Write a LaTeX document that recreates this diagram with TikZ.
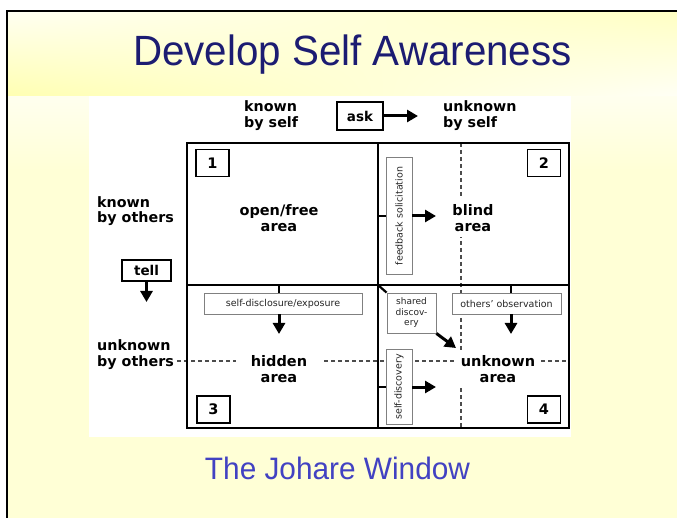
\documentclass[tikz,border=0pt]{standalone}
\usepackage{fontspec}
\setmainfont{DejaVu Sans}
\newfontfamily\slidefont{Liberation Sans}
\usetikzlibrary{arrows.meta,positioning,shadings}

\definecolor{titleblue}{HTML}{1C1C72}
\definecolor{captionblue}{HTML}{4242C2}
\definecolor{paleyellow}{HTML}{FFFFD6}
\definecolor{bandUL}{HTML}{FFFFF2}
\definecolor{bandUR}{HTML}{FFFFC3}
\definecolor{bandLL}{HTML}{FFFFB2}
\definecolor{bandLR}{HTML}{FFFFF5}

\begin{document}
\begin{tikzpicture}[x=1pt,y=-1pt,
  gridline/.style={line width=2.3pt},
  sidelabel/.style={font=\fontsize{14.3}{15.5}\selectfont\bfseries, align=left, inner sep=0pt, anchor=west},
  arealabel/.style={font=\fontsize{14.5}{16}\selectfont\bfseries, align=center, fill=white, inner sep=2pt},
  numbox/.style={draw, line width=1.5pt, fill=white, minimum width=33pt, minimum height=27pt,
    font=\fontsize{14.5}{16}\selectfont\bfseries, inner sep=0pt},
  cuebox/.style={draw, line width=1.2pt, fill=white, font=\fontsize{13.5}{15}\selectfont\bfseries, inner sep=0pt},
  notebox/.style={draw=black!50, line width=0.9pt, fill=white, text=black!85,
    font=\fontsize{9.5}{10.5}\selectfont, inner sep=0pt, align=center},
  joinline/.style={line width=2.2pt},
  bigarrow/.style={line width=3pt, -{Triangle[length=11pt,width=12pt]}},
  splitline/.style={dash pattern=on 4pt off 3pt, line width=1.5pt, draw=black!70},
]
\useasboundingbox (0,0) rectangle (677,518);

% slide background
\fill[white] (0,0) rectangle (677,518);
\fill[paleyellow] (8,11) rectangle (677,518);
\shade[top color=white!60!paleyellow, bottom color=paleyellow] (8,96) rectangle (677,170);
\shade[upper left=bandUL, upper right=bandUR, lower left=bandLL, lower right=bandLR] (8,11) rectangle (677,96);
\draw[line width=2pt] (7,518) -- (7,11) -- (677,11);

% white panel behind the window diagram
\fill[white] (89,96) rectangle (571,437);

% headings
\node (title) at (352.5,55) {\slidefont\color{titleblue}\scalebox{1}[1.05]{\fontsize{40.3}{44}\selectfont Develop Self Awareness}};
\node (caption) at (337.5,468) {\slidefont\color{captionblue}\scalebox{1}[1.04]{\fontsize{29.8}{33}\selectfont The Johare Window}};

% grid corners and centre
\coordinate (gnw) at (187,143);
\coordinate (gse) at (569,428);
\coordinate (gc) at (378,285);

% dashed dividers
\draw[splitline] (461,143) -- (461,428);
\draw[splitline] (177,361) -- (569,361);

% window frame
\draw[gridline] (gnw) rectangle (gse);
\draw[gridline] (gc |- gnw) -- (gc |- gse);
\draw[gridline] (gnw |- gc) -- (gse |- gc);

% axis labels
\node[sidelabel] (kself) at (244,115.5) {known\\by self};
\node[sidelabel] (uself) at (443,115.5) {unknown\\by self};
\node[sidelabel] (kothers) at (97,211) {known\\by others};
\node[sidelabel] (uothers) at (97,354.5) {unknown\\by others};

\node[cuebox, minimum width=46pt, minimum height=28pt] (ask) at (360,116) {ask};
\coordinate (asktip) at (418,116);
\draw[bigarrow] (ask.east) -- (asktip);

\node[cuebox, minimum width=49pt, minimum height=21pt] (tell) at (146.5,270.5) {tell};
\coordinate (telltip) at (146.5,302);
\draw[bigarrow] (tell.south) -- (telltip);

% quadrant numbers
\node[numbox] (n1) at (212.5,163) {1};
\node[numbox] (n2) at (544,163) {2};
\node[numbox] (n3) at (213.5,409.5) {3};
\node[numbox] (n4) at (544,409.5) {4};

% quadrant names
\node[arealabel] (open) at (279,218) {open/free\\area};
\node[arealabel, inner ysep=5pt] (blind) at (473,218) {blind\\area};
\node[arealabel, inner xsep=15pt] (hidden) at (279,369) {hidden\\area};
\node[arealabel, inner xsep=6pt, inner ysep=4pt] (unknown) at (498,369.5) {unknown\\area};

% feedback solicitation
\node[notebox, rotate=90, minimum width=117pt, minimum height=26pt] (feedback) at (399,216) {feedback solicitation};
\coordinate (fbjoin) at (378,216);
\coordinate (fbtip) at (436,216);
\draw[joinline] (fbjoin) -- (feedback.north);
\draw[bigarrow] (feedback.south) -- (fbtip);

% self-disclosure / exposure
\node[notebox, minimum width=158pt, minimum height=21pt] (disclose) at (283,303.5) {self-disclosure/exposure};
\coordinate (dsjoin) at (279,285);
\coordinate (dstip) at (279,334);
\draw[joinline] (dsjoin) -- (dsjoin |- disclose.north);
\draw[bigarrow] (dstip |- disclose.south) -- (dstip);

% shared discovery
\node[notebox, font=\fontsize{9}{10.5}\selectfont, minimum width=49pt, minimum height=40pt] (shared) at (411.5,313) {shared\\discov-\\ery};
\coordinate (shtip) at (456,348);
\draw[joinline] (gc) -- (shared.north west);
\draw[bigarrow] (shared.south east) -- (shtip);

% others' observation
\node[notebox, minimum width=109pt, minimum height=21pt] (observe) at (506.5,303.5) {others' observation};
\coordinate (objoin) at (511,285);
\coordinate (obtip) at (511,334);
\draw[joinline] (objoin) -- (objoin |- observe.north);
\draw[bigarrow] (obtip |- observe.south) -- (obtip);

% self-discovery
\node[notebox, rotate=90, minimum width=75pt, minimum height=26pt] (selfdisc) at (399,387) {self-discovery};
\coordinate (sdjoin) at (378,387);
\coordinate (sdtip) at (436,387);
\draw[joinline] (sdjoin) -- (selfdisc.north);
\draw[bigarrow] (selfdisc.south) -- (sdtip);
\end{tikzpicture}
\end{document}
